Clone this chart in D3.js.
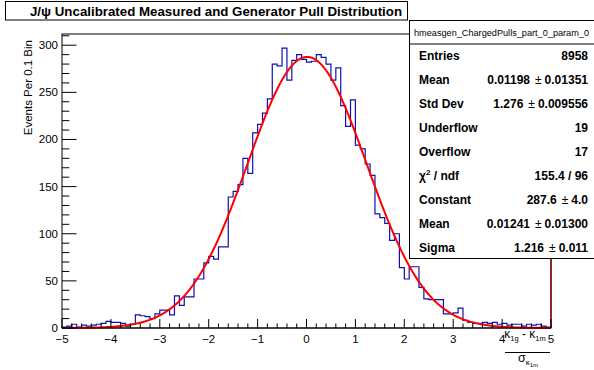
<!DOCTYPE html>
<html><head><meta charset="utf-8">
<script src="https://cdn.jsdelivr.net/npm/d3@7"></script>
<style>body{margin:0;background:#fff}svg{display:block}text{font-family:"Liberation Sans",Arial,sans-serif}</style>
</head><body>
<script>
// ---- data ----
const binLow = -5, binWidth = 0.1;
const counts = [
 1,2,4,1,3,2,3,4,5,7, 6,6,5,2,4,14,13,12,10,15,
 19,19,14,34,24,33,33,52,52,69, 76,73,86,86,139,145,152,180,164,207,
 216,228,243,280,278,297,263,284,290,285, 282,283,290,287,280,263,276,236,214,242,
 194,190,174,162,121,117,111,93,100,64, 52,65,65,43,31,30,30,30,15,15,
 16,21,8,6,5,5,6,5,6,4, 5,3,4,4,2,4,3,4,2,1
];
const fitParams = [287.6, 0.01241, 1.216]; // constant, mean, sigma
const xTicks = [-5,-4,-3,-2,-1,0,1,2,3,4,5];
const yTicks = [0,50,100,150,200,250,300];
const statLabels = ["Entries","Mean","Std Dev","Underflow","Overflow","χ2 / ndf","Constant","Mean","Sigma"];
const statValues = ["8958","0.01198|0.01351","1.276|0.009556","19","17","155.4 / 96","287.6|4.0","0.01241|0.01300","1.216|0.011"];
const titleText = "J/ψ Uncalibrated Measured and Generator Pull Distribution";
const statsName = "hmeasgen_ChargedPulls_part_0_param_0";
const yTitle = "Events Per 0.1 Bin";

// ---- layout ----
const W=594,H=370;
const svg=d3.select("body").append("svg").attr("width",W).attr("height",H);
const X0=62,X1=551,Y0=328,Y1=34;
const x=d3.scaleLinear().domain([-5,5]).range([X0,X1]);
const y=d3.scaleLinear().domain([0,311.9]).range([Y0,Y1]);

// frame
svg.append("rect").attr("x",X0).attr("y",Y1).attr("width",X1-X0).attr("height",Y0-Y1)
  .attr("fill","none").attr("stroke","#000").attr("stroke-width",1);

// histogram step path
let d=`M${x(binLow)},${y(0)}`;
counts.forEach((c,i)=>{
  const xl=x(binLow+i*binWidth), xr=x(binLow+(i+1)*binWidth);
  d+=`L${xl},${y(c)}L${xr},${y(c)}`;
});
d+=`L${x(binLow+counts.length*binWidth)},${y(0)}`;
svg.append("path").attr("d",d).attr("fill","none").attr("stroke","#1010b0").attr("stroke-width",1.2);

// fit curve
const [A,mu,sg]=fitParams;
const pts=d3.range(0,1001).map(k=>{const v=-5+k*0.01;return [v,A*Math.exp(-0.5*((v-mu)/sg)**2)];});
svg.append("path").attr("d",d3.line().x(p=>x(p[0])).y(p=>y(p[1]))(pts))
  .attr("fill","none").attr("stroke","#ff0000").attr("stroke-width",2);

// right frame edge (dark red as in reference)
svg.append("line").attr("x1",X1).attr("x2",X1).attr("y1",258).attr("y2",Y0)
  .attr("stroke","#8b1010").attr("stroke-width",1.5);

// axes ticks
const axg=svg.append("g");
d3.range(0,311,10).forEach(v=>{
  const major=v%50===0;
  axg.append("line").attr("x1",X0).attr("x2",X0+(major?14.5:7.3)).attr("y1",y(v)).attr("y2",y(v))
    .attr("stroke","#000").attr("stroke-width",1);
});
yTicks.forEach(v=>{
  axg.append("text").attr("x",58).attr("y",y(v)+4).attr("text-anchor","end")
    .attr("font-size",11.5).text(v);
});
d3.range(-5,5.001,0.2).forEach(v=>{
  const major=Math.abs(v-Math.round(v))<1e-6;
  axg.append("line").attr("x1",x(v)).attr("x2",x(v)).attr("y1",Y0).attr("y2",Y0-(major?9:4.5))
    .attr("stroke","#000").attr("stroke-width",1);
});
xTicks.forEach(v=>{
  axg.append("text").attr("x",x(v)).attr("y",Y0+15).attr("text-anchor","middle")
    .attr("font-size",11.5).text(v<0?"\u2212"+(-v):v);
});
svg.append("line").attr("x1",X0).attr("x2",X1).attr("y1",Y0).attr("y2",Y0).attr("stroke","#000").attr("stroke-width",1.2);

// y title
svg.append("text").attr("transform","translate(32,40) rotate(-90)").attr("text-anchor","end")
  .attr("font-size",11.5).text(yTitle);

// x title (fraction)
const xt=svg.append("g");
const num=xt.append("text").attr("x",525).attr("y",338).attr("text-anchor","middle").attr("font-size",12);
num.append("tspan").text("κ");
num.append("tspan").attr("font-size",7.5).attr("dy",3).text("1g");
num.append("tspan").attr("dy",-3).text(" - κ");
num.append("tspan").attr("font-size",7.5).attr("dy",3).text("1m");
xt.append("line").attr("x1",505).attr("x2",550).attr("y1",352.5).attr("y2",352.5).attr("stroke","#000").attr("stroke-width",1);
const den=xt.append("text").attr("x",528).attr("y",362).attr("text-anchor","middle").attr("font-size",12.5);
den.append("tspan").text("σ");
den.append("tspan").attr("font-size",8).attr("dy",3).text("κ");
den.append("tspan").attr("font-size",6).attr("dy",2).text("1m");

// title box
svg.append("rect").attr("x",5.5).attr("y",1.5).attr("width",402).attr("height",18.5)
  .attr("fill","#fff").attr("stroke","#000").attr("stroke-width",1);
svg.append("text").attr("x",216).attr("y",15.5).attr("text-anchor","middle")
  .attr("font-size",13.3).attr("font-weight","bold").text(titleText);

// stats box
svg.append("rect").attr("x",409.5).attr("y",20.5).attr("width",186).attr("height",238)
  .attr("fill","#fff").attr("stroke","#000").attr("stroke-width",1);
svg.append("line").attr("x1",409.5).attr("x2",594).attr("y1",44).attr("y2",44).attr("stroke","#000");
svg.append("text").attr("x",414).attr("y",36).attr("font-size",9.2)
  .attr("textLength",175).attr("lengthAdjust","spacingAndGlyphs").text(statsName);
statLabels.forEach((l,i)=>{
  const by=60+i*24;
  const t=svg.append("text").attr("x",419).attr("y",by).attr("font-size",12).attr("font-weight","bold");
  if(l.startsWith("χ2")){
    t.append("tspan").text("χ");
    t.append("tspan").attr("font-size",8).attr("dy",-5).text("2");
    t.append("tspan").attr("dy",5).text(" / ndf");
  } else t.text(l);
  const v=statValues[i];
  const vt=svg.append("text").attr("x",588).attr("y",by).attr("text-anchor","end").attr("font-size",12)
    .attr("font-weight","bold");
  if(v.includes("|")){
    const [a,b]=v.split("|");
    vt.append("tspan").text(a);
    vt.append("tspan").attr("dx",5).attr("font-weight","normal").text("±");
    vt.append("tspan").attr("dx",3).text(b);
  } else vt.text(v);
});
</script>
</body></html>
